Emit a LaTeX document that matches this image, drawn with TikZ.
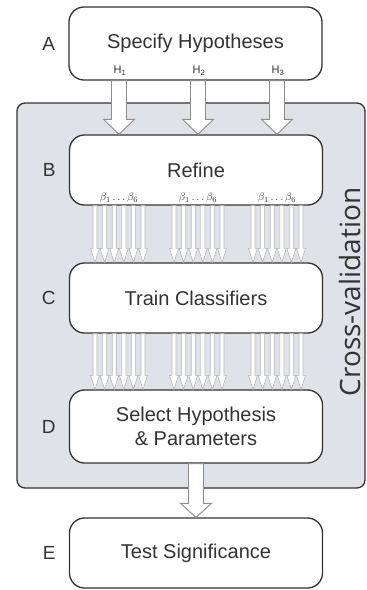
\documentclass[tikz,border=0pt]{standalone}
\usepackage{fontspec}
\setmainfont{Liberation Sans}
\newfontfamily\cvfont{Open Sans}
\usepackage{tikz}
\usetikzlibrary{calc}
\usetikzlibrary{positioning}

\definecolor{ink}{HTML}{333333}
\definecolor{panelgray}{HTML}{DFE2E8}
\definecolor{arrowgray}{HTML}{8C8C8C}
\definecolor{thingray}{HTML}{B8B8B8}

% hollow block arrow: start, end, half shaft, half head, head length, style
\newcommand{\fatarrow}[6]{%
  \draw[#6] let \p1=#1, \p2=#2 in
    (\x1-#3,\y1) -- (\x1-#3,\y2+#5) -- (\x1-#4,\y2+#5) -- (\x1,\y2)
    -- (\x1+#4,\y2+#5) -- (\x1+#3,\y2+#5) -- (\x1+#3,\y1) -- cycle;}

\begin{document}
\begin{tikzpicture}[x=1pt,y=-1pt,
  stage/.style={draw=ink,line width=1.3pt,fill=white,rounded corners=15pt,minimum width=253pt,
    align=center,text=ink,font=\fontsize{20}{24}\selectfont},
  lbl/.style={inner sep=0pt,text=ink,font=\fontsize{19}{22}\selectfont},
  sub/.style={inner sep=0pt,text=ink,font=\fontsize{11}{13}\selectfont},
  bigarrow/.style={draw=arrowgray,line width=0.9pt,fill=white},
  thinarrow/.style={draw=thingray,line width=0.6pt,fill=white}]
\useasboundingbox (0,0) rectangle (367,590);

\node [draw=ink,line width=1.3pt,fill=panelgray,rounded corners=8pt,minimum width=348pt,minimum height=385pt] (cv) at (191,295.5) {};
\node [rotate=90,anchor=base,inner sep=0pt,text=ink,font=\cvfont\fontsize{28}{32}\selectfont] (cvtext) at (360,292) {Cross-validation};

\node [stage,minimum height=73pt] (A) at (195.5,43.5) {Specify Hypotheses};
\node [stage,minimum height=70pt] (B) at (196,170) {Refine};
\node [stage,minimum height=70pt] (C) at (196,298) {Train Classifiers};
\node [stage,minimum height=73pt] (D) at (196,426.5) {Select Hypothesis\\\& Parameters};
\node [stage,minimum height=70pt] (E) at (196,553) {Test Significance};

\node [lbl,left=13pt of A] {A};
\node [lbl,left=13pt of B] {B};
\node [lbl,left=13pt of C] {C};
\node [lbl,left=13pt of D] {D};
\node [lbl,left=13pt of E] {E};

\node [sub] (h1) at (120,71) {H\textsubscript{1}};
\node [sub] (h2) at (199,71) {H\textsubscript{2}};
\node [sub] (h3) at (278,71) {H\textsubscript{3}};

\node [sub] (b1) at (119,198) {$\beta_1\ldots\beta_6$};
\node [sub] (b2) at (198,198) {$\beta_1\ldots\beta_6$};
\node [sub] (b3) at (277,198) {$\beta_1\ldots\beta_6$};

\foreach \h in {h1,h2,h3}
  \fatarrow{([xshift=-1pt]A.south -| \h)}{([xshift=-1pt]B.north -| \h)}{7.5pt}{15.5pt}{15pt}{bigarrow};

\foreach \g in {b1,b2,b3}
  \foreach \d in {-24,-14.4,-4.8,4.8,14.4,24} {
    \fatarrow{($(B.south -| \g)+(\d,0)$)}{($(C.north -| \g)+(\d,0)$)}{2pt}{4.5pt}{14pt}{thinarrow}
    \fatarrow{($(C.south -| \g)+(\d,0)$)}{($(D.north -| \g)+(\d,0)$)}{2pt}{4.5pt}{14pt}{thinarrow}
  }

\fatarrow{(D.south)}{(E.north)}{7.5pt}{15.5pt}{14pt}{bigarrow};
\end{tikzpicture}
\end{document}
